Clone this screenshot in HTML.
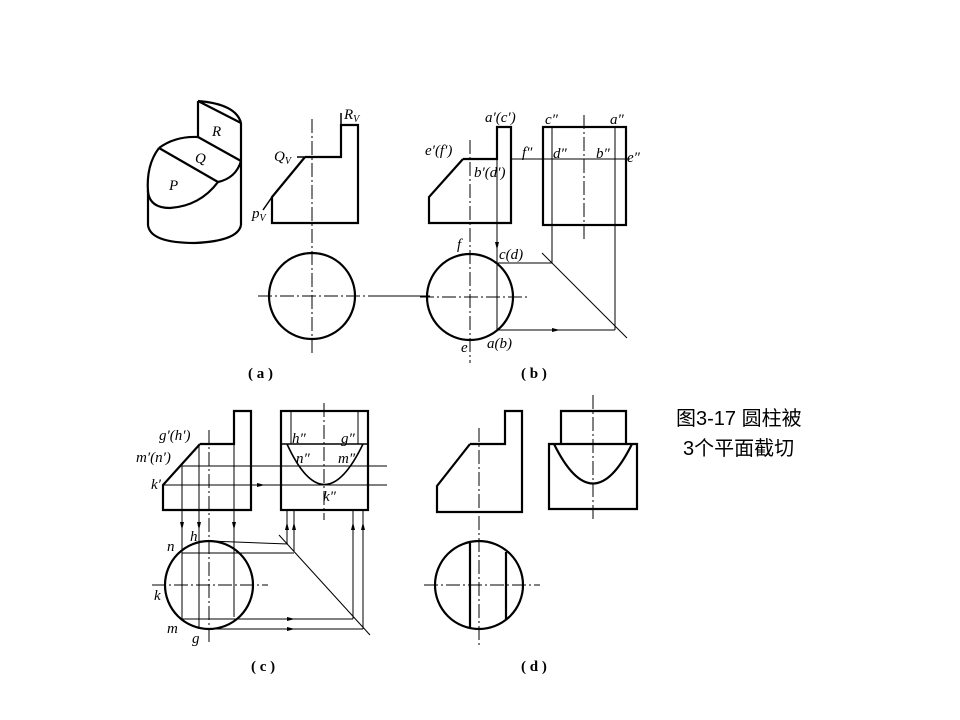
<!DOCTYPE html>
<html><head><meta charset="utf-8"><style>
body{margin:0;background:#fff}
svg{display:block}
text{font-family:"Liberation Serif",serif;font-style:italic;font-size:15px;fill:#000}
.c{font-style:normal;font-weight:bold;font-size:15px}
.t{font-family:"Liberation Sans","Noto Sans CJK SC",sans-serif;font-style:normal;font-size:20px}
</style></head><body>
<svg width="960" height="720" viewBox="0 0 960 720" xmlns="http://www.w3.org/2000/svg">
<g fill="none" stroke="#000">
<!-- (a) iso -->
<g stroke-width="2.2">
<path d="M198,101 L198,137 M198,101 L241,123 M198,101 Q236,104 241,123 M241,123 L241,225"/>
<path d="M159,148 Q175,136 198,137 M159,148 L218,182 M218,182 Q236,178 241,161"/>
<path d="M159,148 Q146,165 148,192 Q150,208 170,208 Q200,206 218,182"/>
<path d="M148,190 L148,225 Q150,243 195,243 Q238,241 241,225"/>
<path d="M198,137 L241,161"/>
</g>
<!-- (a) front -->
<path stroke-width="2.2" d="M305,157 L341,157 L341,125 L358,125 L358,223 L272,223 L272,197 L305,157"/>
<path stroke-width="1.5" d="M272,197 L263,210 M297,157 L305,157 M341,125 L341,113"/>
<path stroke-width="1" stroke-dasharray="14,3,2,3" d="M312,119 L312,353"/>
<circle cx="312" cy="296" r="43" stroke-width="2.2"/>
<path stroke-width="1" stroke-dasharray="14,3,2,3" d="M258,296 L380,296"/>
<path stroke-width="1" d="M380,296 L430,296"/>
<!-- (b) front -->
<path stroke-width="2.2" d="M463,159 L497,159 L497,127 L511,127 L511,223 L429,223 L429,197 L463,159"/>
<path stroke-width="1" d="M511,159 L630,159"/>
<path stroke-width="1" stroke-dasharray="14,3,2,3" d="M470,140 L470,363"/>
<path stroke-width="1" d="M497,159 L497,330"/>
<rect x="543" y="127" width="83" height="98" stroke-width="2.2"/>
<path stroke-width="1" d="M552,127 L552,263 M615,127 L615,330 M497,263 L552,263 M497,330 L615,330 M542,253 L627,338"/>
<path stroke-width="1" stroke-dasharray="14,3,2,3" d="M584,115 L584,240"/>
<circle cx="470" cy="297" r="43" stroke-width="2.2"/>
<path stroke-width="1" stroke-dasharray="14,3,2,3" d="M420,297 L530,297"/>
<!-- (c) front -->
<path stroke-width="2.2" d="M200,444 L234,444 L234,411 L251,411 L251,510 L163,510 L163,485 L200,444"/>
<path stroke-width="1" d="M182,466 L387,466 M163,485 L387,485 M182,466 L182,620 M199,444 L199,629 M234,444 L234,617"/>
<path stroke-width="1" stroke-dasharray="14,3,2,3" d="M209,430 L209,645"/>
<circle cx="209" cy="585" r="44" stroke-width="2.2"/>
<path stroke-width="1" stroke-dasharray="14,3,2,3" d="M152,585 L268,585"/>
<rect x="281" y="411" width="87" height="99" stroke-width="2.2"/>
<path stroke-width="1.6" d="M281,444 L368,444 M287,444 Q324,525 363,444"/>
<path stroke-width="1" d="M291,411 L291,444 M358,411 L358,444"/>
<path stroke-width="1" stroke-dasharray="14,3,2,3" d="M324,403 L324,520"/>
<path stroke-width="1" d="M287,510 L287,544 M294,510 L294,551 M209,541 L288,544 M182,553 L294,553 M279,535 L370,635 M182,619 L353,619 M209,629 L363,629 M353,619 L353,510 M363,629 L363,510"/>
<!-- (d) -->
<path stroke-width="2.2" d="M470,444 L505,444 L505,411 L522,411 L522,512 L437,512 L437,486 L470,444"/>
<path stroke-width="1" stroke-dasharray="14,3,2,3" d="M479,428 L479,645 M593,395 L593,522"/>
<path stroke-width="2.2" d="M561,444 L561,411 L626,411 L626,444 M549,444 L637,444 L637,509 L549,509 Z M554,444 Q593,523 632,444"/>
<circle cx="479" cy="585" r="44" stroke-width="2.2"/>
<path stroke-width="2.2" d="M470,543 L470,628 M506,552 L506,620"/>
<path stroke-width="1" stroke-dasharray="14,3,2,3" d="M424,585 L540,585"/>
</g>
<!-- arrows -->
<g fill="#000">
<path d="M497,250 l-2,-8 h4z"/>
<path d="M560,330 l-8,-2 v4z"/>
<path d="M265,485 l-8,-2 v4z"/>
<path d="M182,530 l-2,-8 h4z M199,530 l-2,-8 h4z M234,530 l-2,-8 h4z"/>
<path d="M287,522 l-2,8 h4z M294,522 l-2,8 h4z M353,522 l-2,8 h4z M363,522 l-2,8 h4z"/>
<path d="M295,619 l-8,-2 v4z M295,629 l-8,-2 v4z"/>
</g>
<!-- labels -->
<text x="212" y="136">R</text>
<text x="195" y="163">Q</text>
<text x="169" y="190">P</text>
<text x="344" y="119">R<tspan font-size="10" dy="3">V</tspan></text>
<text x="274" y="161">Q<tspan font-size="10" dy="3">V</tspan></text>
<text x="252" y="218">p<tspan font-size="10" dy="3">V</tspan></text>
<text class="c" x="248" y="378">( a )</text>
<text x="485" y="122">a′(c′)</text>
<text x="545" y="124">c″</text>
<text x="610" y="124">a″</text>
<text x="425" y="155">e′(f′)</text>
<text x="522" y="157">f″</text>
<text x="553" y="158">d″</text>
<text x="596" y="158">b″</text>
<text x="627" y="162">e″</text>
<text x="474" y="177">b′(d′)</text>
<text x="457" y="249">f</text>
<text x="499" y="259">c(d)</text>
<text x="461" y="352">e</text>
<text x="487" y="348">a(b)</text>
<text class="c" x="521" y="378">( b )</text>
<text x="159" y="440">g′(h′)</text>
<text x="136" y="462">m′(n′)</text>
<text x="151" y="489">k′</text>
<text x="292" y="443">h″</text>
<text x="341" y="443">g″</text>
<text x="296" y="463">n″</text>
<text x="338" y="463">m″</text>
<text x="323" y="501">k″</text>
<text x="190" y="541">h</text>
<text x="167" y="551">n</text>
<text x="154" y="600">k</text>
<text x="167" y="633">m</text>
<text x="192" y="643">g</text>
<text class="c" x="251" y="671">( c )</text>
<text class="c" x="521" y="671">( d )</text>
<text class="t" x="676" y="425">图3-17 圆柱被</text>
<text class="t" x="683" y="455">3个平面截切</text>
</svg>
</body></html>
